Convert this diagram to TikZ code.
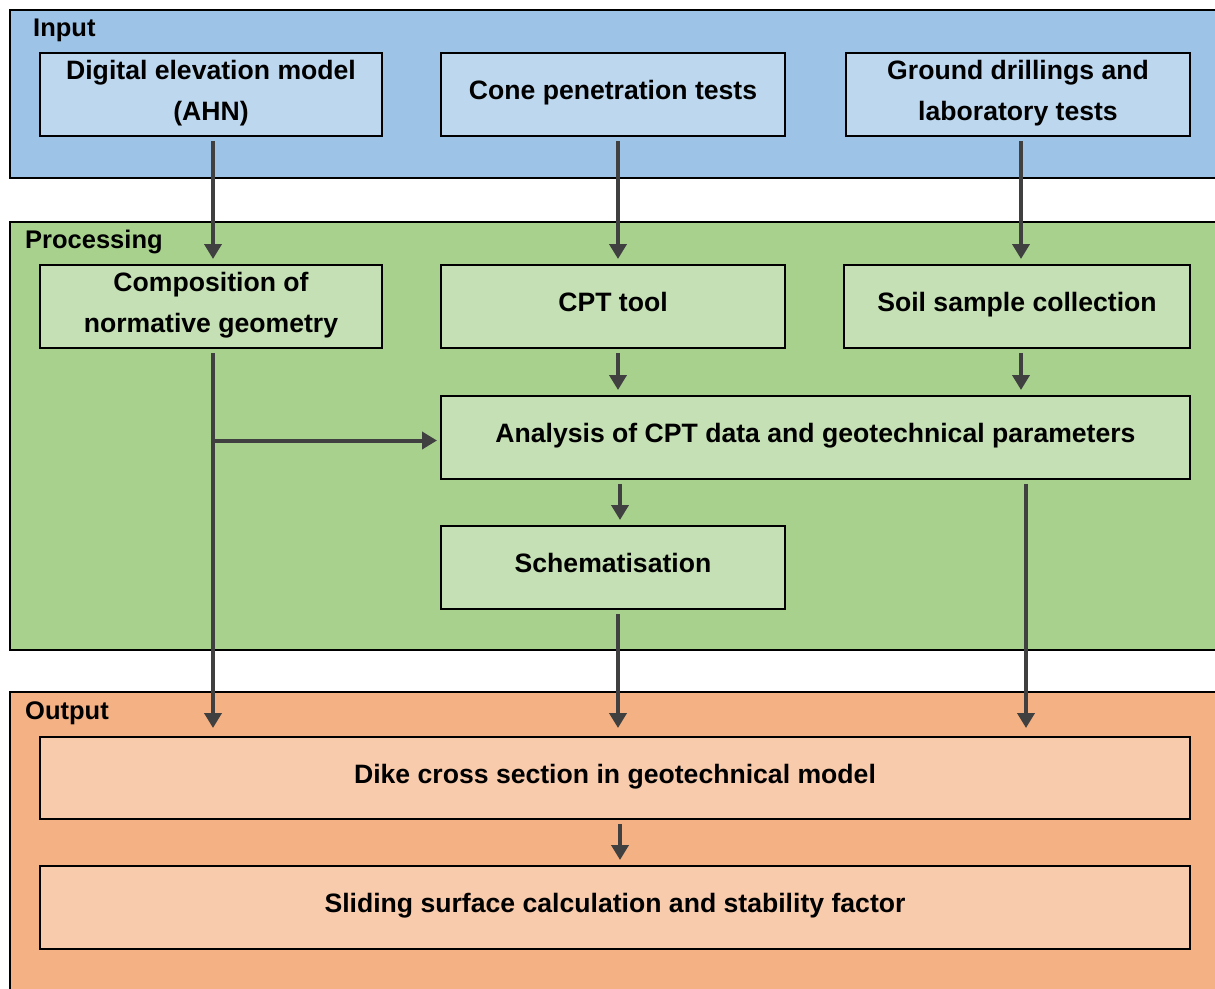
\documentclass[tikz,border=0pt]{standalone}
\usepackage{fontspec}
\setmainfont{Liberation Sans}
\usetikzlibrary{arrows.meta,calc}
\definecolor{inpanel}{HTML}{9DC3E6}
\definecolor{inbox}{HTML}{BDD7EE}
\definecolor{prpanel}{HTML}{A9D18E}
\definecolor{prbox}{HTML}{C5E0B4}
\definecolor{outpanel}{HTML}{F4B183}
\definecolor{outbox}{HTML}{F8CBAD}
\definecolor{arrcol}{HTML}{404040}
\tikzset{
  panel/.style={draw=black, line width=2pt},
  stepbox/.style={draw=black, line width=2pt, align=center, inner sep=0pt,
    minimum height=83pt, text height=19pt, text depth=9pt,
    font=\bfseries\fontsize{26.6}{41}\selectfont},
  twoline/.style={text height=60pt, text depth=8.5pt},
  paneltitle/.style={anchor=base west, inner sep=0pt, font=\bfseries\fontsize{25.5}{30}\selectfont},
  arr/.style={draw=arrcol, line width=4pt, -{Triangle[width=17pt,length=15pt]},
    shorten <=4pt, shorten >=5pt}
}
\begin{document}
\begin{tikzpicture}[x=1pt,y=-1pt]
\useasboundingbox (0,0) rectangle (1215,988);
\clip (0,0) rectangle (1215,988);
\fill[white] (0,0) rectangle (1215,988);
% panels
\draw[panel, fill=inpanel] (10,10) rectangle (1235,178);
\draw[panel, fill=prpanel] (10,222) rectangle (1235,650);
\draw[panel, fill=outpanel] (10,692) rectangle (1235,1010);
\node[paneltitle] (tin) at (33,36) {Input};
\node[paneltitle] (tpr) at (25,248) {Processing};
\node[paneltitle] (tout) at (25,719) {Output};
% input boxes
\node[stepbox, twoline, fill=inbox, minimum width=342pt] (dem) at (211,94.5) {Digital elevation model\\(AHN)};
\node[stepbox, fill=inbox, minimum width=344pt] (cone) at (613,94.5) {Cone penetration tests};
\node[stepbox, twoline, fill=inbox, minimum width=344pt] (ground) at (1018,94.5) {Ground drillings and\\laboratory tests};
% processing boxes
\node[stepbox, twoline, fill=prbox, minimum width=342pt] (comp) at (211,306.5) {Composition of\\normative geometry};
\node[stepbox, fill=prbox, minimum width=344pt] (cpt) at (613,306.5) {CPT tool};
\node[stepbox, fill=prbox, minimum width=346pt] (soil) at (1017,306.5) {Soil sample collection};
\node[stepbox, fill=prbox, minimum width=749pt] (analysis) at (815.5,437.5) {Analysis of CPT data and geotechnical parameters};
\node[stepbox, fill=prbox, minimum width=344pt] (schem) at (613,567.5) {Schematisation};
% output boxes
\node[stepbox, fill=outbox, minimum width=1150pt, minimum height=82pt] (dike) at (615,778) {Dike cross section in geotechnical model};
\node[stepbox, fill=outbox, minimum width=1150pt] (slide) at (615,907.5) {Sliding surface calculation and stability factor};
% arrows
\draw[arr] ([xshift=2pt]dem.south) -- ([xshift=2pt]comp.north);
\draw[arr] ([xshift=5pt]cone.south) -- ([xshift=5pt]cpt.north);
\draw[arr] ([xshift=3pt]ground.south) -- ([xshift=4pt]soil.north);
\draw[arr] ([xshift=5pt]cpt.south) -- ([xshift=5pt]cpt.south |- analysis.north);
\draw[arr] ([xshift=4pt]soil.south) -- ([xshift=4pt]soil.south |- analysis.north);
\draw[arr, shorten >=8pt] ([xshift=2pt]comp.south) -- ([xshift=2pt]comp.south |- dike.north);
\coordinate (j) at ([xshift=2pt,yshift=-3pt]comp.south |- analysis.west);
\draw[arr, shorten <=0pt, shorten >=3pt] (j) -- (j -| analysis.west);
\draw[arr] ([xshift=7pt]schem.north |- analysis.south) -- ([xshift=7pt]schem.north);
\draw[arr, shorten >=8pt] ([xshift=210.5pt]analysis.south) -- ([xshift=210.5pt]analysis.south |- dike.north);
\draw[arr, shorten >=8pt] ([xshift=5pt]schem.south) -- ([xshift=5pt]schem.south |- dike.north);
\draw[arr] ([xshift=5pt]dike.south) -- ([xshift=5pt]dike.south |- slide.north);
\end{tikzpicture}
\end{document}
